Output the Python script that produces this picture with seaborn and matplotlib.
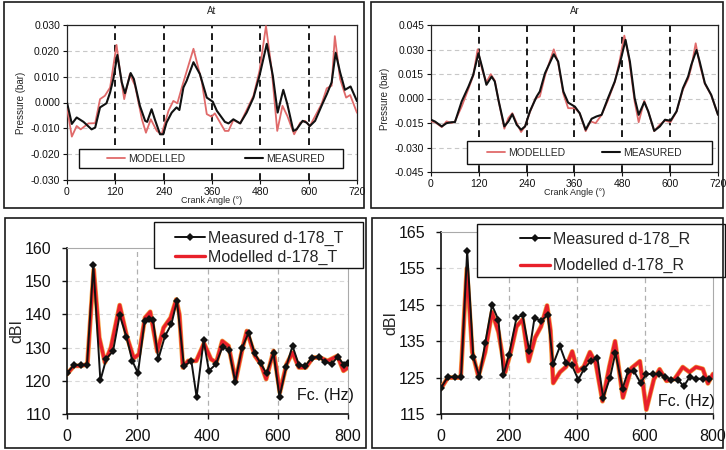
import numpy as np
import pandas as pd
import matplotlib
matplotlib.use("Agg")
import matplotlib.pyplot as plt
import matplotlib.patheffects as pe
from matplotlib.patches import Rectangle
from matplotlib.lines import Line2D
import seaborn as sns

sns.set_theme(style="white")
plt.rcParams['font.family'] = ['Liberation Sans', 'DejaVu Sans']

# ---------------- data: At (pressure, mbar) ----------------
at_meas_ang = [0, 12, 24, 41, 61, 70, 82, 98, 107, 115, 125, 136, 144, 158, 166, 181, 194, 199, 210,
               218, 231, 239, 247, 260, 272, 279, 289, 297, 314, 330, 347, 362, 372, 392, 401, 413,
               430, 446, 463, 478, 496, 511, 523, 537, 547, 562, 570, 585, 595, 603, 616, 632, 645,
               657, 667, 678, 690, 704, 720]
at_meas_val = [0.0, -8.3, -5.8, -7.5, -10.4, -9.7, -1.9, -0.3, 3.9, 9.1, 18.4, 7.8, 3.6, 11.4, 9.1,
               -1.3, -7.1, -7.5, -2.6, -6.5, -12.3, -12.3, -7.8, -3.9, -1.9, -2.9, 5.8, 8.4, 15.6,
               11.0, 1.9, 0.3, -3.2, -7.5, -8.1, -6.5, -8.1, -3.9, 1.9, 10.4, 22.7, 10.4, -3.9, 4.9,
               -0.6, -11.0, -10.4, -7.1, -7.8, -9.1, -7.1, -1.3, 3.2, 7.8, 19.2, 11.7, 4.9, 6.2, 0.5]
at_mod_ang = [0, 12, 24, 34, 53, 70, 82, 94, 107, 123, 133, 142, 156, 169, 186, 196, 208, 223, 235,
              252, 264, 274, 285, 314, 335, 347, 359, 367, 392, 401, 413, 430, 463, 478, 494, 508,
              522, 535, 547, 564, 579, 591, 603, 632, 645, 657, 665, 678, 693, 703, 720]
at_mod_val = [-2.0, -13.2, -9.1, -10.4, -8.1, -8.0, 1.3, 2.6, 5.8, 22.3, 10.4, 1.3, 11.0, 6.5, -6.5,
              -11.7, -6.5, -11.0, -12.3, -3.2, 0.6, -0.3, 5.8, 20.8, 7.8, -4.5, -5.5, -4.2, -11.0,
              -11.0, -6.8, -8.1, 2.6, 12.3, 29.6, 13.0, -11.0, -1.3, -5.2, -12.3, -7.8, -7.1, -9.1,
              -0.6, 5.5, 6.5, 25.7, 9.1, 1.9, 2.9, -4.0]

# ---------------- data: Ar (pressure, mbar) ----------------
ar_meas_ang = [0, 10, 27, 39, 52, 60, 77, 94, 106, 119, 129, 139, 152, 160, 170, 184, 194, 204, 215,
               226, 236, 248, 265, 273, 286, 308, 319, 332, 344, 361, 373, 388, 403, 415, 428, 444,
               461, 474, 488, 499, 511, 521, 535, 545, 560, 574, 587, 601, 616, 632, 645, 653, 666,
               674, 687, 703, 720]
ar_meas_val = [-13.0, -14.1, -17.1, -15.1, -14.5, -14.5, -1.8, 7.3, 14.5, 27.7, 18.5, 8.4, 13.4, 10.4,
               -1.8, -17.1, -14.1, -9.6, -16.1, -19.1, -17.1, -7.9, 1.2, 4.3, 15.5, 27.1, 22.6, 4.3,
               -2.5, -5.0, -9.0, -19.1, -12.4, -11.0, -10.0, 0.2, 10.4, 21.6, 35.9, 22.6, 0.2, -10.0,
               -2.2, -7.9, -19.8, -17.1, -13.0, -13.6, -7.9, 6.3, 13.4, 20.6, 29.7, 22.6, 9.4, 2.2,
               -10.0]
ar_mod_ang = [0, 10, 27, 39, 52, 60, 77, 94, 106, 117, 129, 139, 150, 160, 170, 184, 194, 204, 215,
              226, 236, 248, 262, 273, 286, 308, 319, 332, 344, 361, 373, 388, 400, 413, 428, 444,
              461, 474, 485, 497, 511, 521, 535, 545, 560, 574, 587, 601, 616, 632, 645, 653, 664,
              674, 687, 703, 720]
ar_mod_val = [-14.0, -14.5, -17.5, -14.0, -15.0, -14.0, -4.9, 6.0, 14.0, 30.1, 17.0, 10.0, 14.9, 11.0,
              -2.0, -18.5, -12.0, -9.0, -15.0, -20.5, -17.0, -8.5, 0.0, 1.2, 14.0, 30.1, 22.0, 3.0,
              -5.9, -6.0, -9.0, -20.0, -14.0, -15.1, -10.0, -1.0, 10.0, 24.0, 38.5, 24.0, -2.0,
              -14.5, -1.4, -8.0, -20.0, -16.0, -13.5, -14.5, -8.0, 5.5, 12.0, 19.0, 33.8, 21.0,
              9.0, 2.0, -10.0]

# ---------------- data: d-178_T (dBI) ----------------
t_meas_f = [0, 20, 39, 57, 75, 95, 112, 131, 150, 169, 186, 202, 221, 233, 245, 260, 279, 297, 313,
            333, 354, 369, 389, 404, 424, 443, 461, 479, 498, 517, 534, 551, 568, 588, 605, 624, 642,
            660, 679, 697, 717, 735, 754, 771, 789, 800]
t_meas_db = [122.3, 124.8, 124.8, 124.8, 154.8, 120.1, 126.7, 128.9, 139.8, 133.3, 126.0, 122.3,
             138.0, 138.5, 138.2, 126.6, 133.5, 137.0, 144.1, 124.4, 126.0, 115.1, 132.2, 123.0,
             125.0, 130.3, 129.3, 119.7, 129.8, 134.5, 128.3, 125.3, 122.2, 128.3, 115.1, 124.2,
             130.5, 124.8, 124.5, 127.0, 127.2, 125.6, 125.2, 127.2, 124.8, 125.3]
t_mod_f = [0, 20, 40, 58, 76, 92, 108, 125, 150, 170, 190, 205, 222, 237, 257, 275, 295, 311, 320,
           330, 345, 368, 390, 410, 425, 442, 460, 480, 500, 512, 535, 552, 567, 588, 606, 625, 642,
           660, 680, 700, 720, 742, 770, 787, 800]
t_mod_db = [122.0, 124.5, 124.5, 125.0, 153.5, 133.0, 125.5, 130.0, 142.8, 133.5, 126.8, 128.0,
            139.0, 140.8, 128.8, 136.0, 139.0, 144.5, 140.0, 124.0, 126.0, 126.0, 131.3, 126.5,
            125.5, 132.0, 130.5, 120.0, 130.0, 135.0, 127.5, 125.0, 120.5, 129.0, 116.5, 125.0,
            128.5, 124.0, 124.0, 127.0, 127.0, 126.0, 127.5, 123.0, 124.0]

# ---------------- data: d-178_R (dBI) ----------------
r_meas_f = [0, 20, 40, 59, 77, 95, 113, 130, 150, 169, 183, 200, 222, 240, 260, 275, 294, 314, 330,
            350, 368, 385, 404, 420, 441, 460, 477, 497, 513, 534, 550, 568, 587, 604, 623, 640, 660,
            677, 697, 714, 731, 750, 770, 789]
r_meas_db = [122.2, 125.2, 125.2, 125.2, 159.9, 130.6, 125.2, 134.5, 144.9, 140.8, 125.6, 131.3,
             141.4, 142.2, 132.2, 141.4, 140.6, 142.2, 128.7, 133.6, 129.0, 128.4, 124.4, 127.3,
             129.6, 130.4, 119.4, 124.9, 131.8, 122.0, 126.7, 126.7, 123.5, 126.0, 126.0, 126.0,
             125.3, 124.4, 124.4, 122.6, 125.1, 124.7, 124.7, 124.7]
r_mod_f = [0, 20, 40, 58, 76, 92, 110, 130, 150, 169, 189, 205, 222, 240, 258, 277, 294, 312, 322,
           330, 350, 368, 386, 402, 420, 438, 455, 475, 495, 512, 535, 560, 585, 604, 626, 643, 663,
           687, 711, 731, 750, 770, 785, 800]
r_mod_db = [122.0, 125.0, 125.0, 125.0, 155.0, 132.0, 125.3, 132.0, 143.0, 137.5, 126.5, 132.0,
            139.0, 141.0, 129.5, 136.0, 139.0, 144.8, 138.0, 123.5, 126.5, 128.0, 132.2, 126.7,
            128.0, 132.0, 129.0, 118.5, 128.0, 135.0, 119.5, 127.6, 129.5, 116.2, 124.5, 127.3,
            124.1, 124.6, 127.9, 126.5, 127.9, 127.4, 123.4, 126.0]

top_xticks = [0, 120, 240, 360, 480, 600, 720]
at_yticks = [-0.030, -0.020, -0.010, 0.000, 0.010, 0.020, 0.030]
at_ylabels = ["-0.030", "-0.020", "-0.010", "0.000", "0.010", "0.020", "0.030"]
ar_yticks = [-0.045, -0.030, -0.015, 0.000, 0.015, 0.030, 0.045]
ar_ylabels = ["-0.045", "-0.030", "-0.015", "0.000", "0.015", "0.030", "0.045"]
bot_xticks = [0, 200, 400, 600, 800]
t_yticks = [110, 120, 130, 140, 150, 160]
r_yticks = [115, 125, 135, 145, 155, 165]

W, H = 726, 450
fig = plt.figure(figsize=(7.26, 4.5), dpi=100)
fig.patch.set_facecolor('white')


def fx(x):
    return x / W


def fy(y):
    return 1 - y / H


def ax_px(x0, y0, x1, y1):
    return fig.add_axes([fx(x0), fy(y1), (x1 - x0) / W, (y1 - y0) / H])


def frame_px(x0, y0, x1, y1, lw=1.2):
    fig.patches.append(Rectangle((fx(x0), fy(y1)), (x1 - x0) / W, (y1 - y0) / H,
                                 transform=fig.transFigure, fill=False,
                                 edgecolor='#1a1a1a', lw=lw, zorder=0))


def legend_box(ax, x0, y0, x1, y1):
    ax.add_patch(Rectangle((fx(x0), fy(y1)), (x1 - x0) / W, (y1 - y0) / H,
                           transform=fig.transFigure, facecolor='white',
                           edgecolor='#111111', lw=1.0, zorder=6, clip_on=False))


RED_TOP = '#e06a6a'
RED_BOT = '#e8202a'


def top_panel(ax, mang, mval, dang, dval, yt, ylabs, title, leg):
    df_meas = pd.DataFrame({'angle': mang, 'p': np.array(mval) / 1000.0})
    df_mod = pd.DataFrame({'angle': dang, 'p': np.array(dval) / 1000.0})
    ax.set_facecolor('white')
    for y in yt[1:-1]:
        ax.axhline(y, color='#c8c8c8', lw=0.8, ls=(0, (4, 3)), zorder=0)
    for x in top_xticks[1:-1]:
        ax.axvline(x, color='#1a1a1a', lw=1.4, ls=(0, (3.5, 2.5)), zorder=1)
    sns.lineplot(data=df_mod, x='angle', y='p', ax=ax, color=RED_TOP, lw=1.3,
                 estimator=None, sort=False, zorder=3)
    sns.lineplot(data=df_meas, x='angle', y='p', ax=ax, color='#111111', lw=1.5,
                 estimator=None, sort=False, zorder=4)
    ax.set_xlim(0, 720)
    ax.set_ylim(yt[0], yt[-1])
    ax.set_xticks(top_xticks)
    ax.set_xticklabels([str(v) for v in top_xticks], fontsize=7.5)
    ax.set_yticks(yt)
    ax.set_yticklabels(ylabs, fontsize=7.5)
    ax.tick_params(axis='both', which='both', length=3, width=0.8, direction='out',
                   pad=2, colors='#111111', left=True, bottom=True)
    ax.set_xlabel('Crank Angle (°)', fontsize=6.5, labelpad=-1)
    ax.set_ylabel('Pressure (bar)', fontsize=7, labelpad=3)
    ax.set_title(title, fontsize=7, pad=8)
    for s in ax.spines.values():
        s.set_color('#222222')
        s.set_linewidth(0.9)
        s.set_visible(True)
    (bx0, by0, bx1, by1), (hx, hy), colsp = leg
    legend_box(ax, bx0, by0, bx1, by1)
    handles = [Line2D([], [], color=RED_TOP, lw=1.3), Line2D([], [], color='#111111', lw=1.5)]
    lg = ax.legend(handles, ['MODELLED', 'MEASURED'], ncol=2, loc='center left',
                   bbox_to_anchor=(fx(hx), fy(hy)), bbox_transform=fig.transFigure,
                   fontsize=7.5, frameon=False, handlelength=1.7, borderaxespad=0,
                   borderpad=0, handletextpad=0.3, columnspacing=colsp)
    lg.set_zorder(7)


def bottom_panel(ax, mf, mdb, df_, ddb, yt, name, leg, fc_pos):
    df_meas = pd.DataFrame({'f': mf, 'db': mdb})
    df_mod = pd.DataFrame({'f': df_, 'db': ddb})
    ax.set_facecolor('white')
    for y in yt[1:-1]:
        ax.axhline(y, color='#d8d8d8', lw=0.8, ls=(0, (4, 3)), zorder=0)
    for x in bot_xticks[1:-1]:
        ax.axvline(x, color='#b0b0b0', lw=0.9, ls=(0, (4, 3)), zorder=0)
    sns.lineplot(data=df_mod, x='f', y='db', ax=ax, color=RED_BOT, lw=2.4,
                 estimator=None, sort=False, zorder=3,
                 path_effects=[pe.Stroke(linewidth=3.4, foreground='#f2a040'), pe.Normal()])
    sns.lineplot(data=df_meas, x='f', y='db', ax=ax, color='#111111', lw=1.4,
                 marker='D', markersize=4.5, markeredgewidth=0, estimator=None, sort=False,
                 zorder=4)
    ax.set_xlim(0, 800)
    ax.set_ylim(yt[0], yt[-1])
    ax.set_xticks(bot_xticks)
    ax.set_xticklabels([str(v) for v in bot_xticks], fontsize=11.5)
    ax.set_yticks(yt)
    ax.set_yticklabels([str(v) for v in yt], fontsize=11.5)
    ax.tick_params(axis='both', which='both', length=3.6, width=1.0, direction='out',
                   pad=7.5, colors='#111111', left=True, bottom=True)
    ax.set_xlabel('')
    ax.set_ylabel('dBI', fontsize=11.5, labelpad=0)
    for k, s in ax.spines.items():
        s.set_visible(True)
        if k in ('left', 'bottom'):
            s.set_color('#111111')
            s.set_linewidth(1.2)
        else:
            s.set_color('#aaaaaa')
            s.set_linewidth(0.8)
    ax.text(fc_pos[0], fc_pos[1], 'Fc. (Hz)', fontsize=11.5, ha='left', va='center',
            color='#111111', zorder=5)
    (bx0, by0, bx1, by1), (hx, hy), lsp = leg
    legend_box(ax, bx0, by0, bx1, by1)
    handles = [Line2D([], [], color='#111111', lw=1.4, marker='D', markersize=4.5,
                      markeredgewidth=0),
               Line2D([], [], color=RED_BOT, lw=2.4)]
    lg = ax.legend(handles, ['Measured ' + name, 'Modelled ' + name], loc='center left',
                   bbox_to_anchor=(fx(hx), fy(hy)), bbox_transform=fig.transFigure,
                   fontsize=11.5, frameon=False, handlelength=1.9, borderaxespad=0,
                   borderpad=0, handletextpad=0.15, labelspacing=lsp, numpoints=1)
    lg.set_zorder(7)


# panel frames
frame_px(4, 2, 364, 208)
frame_px(371, 2, 723, 208)
frame_px(5, 218, 366, 448)
frame_px(372, 218, 723, 448)

ax1 = ax_px(67, 25, 357, 180)
top_panel(ax1, at_meas_ang, at_meas_val, at_mod_ang, at_mod_val, at_yticks, at_ylabels, 'At',
          ((79, 149, 343, 168), (107, 158.5), 5.8))

ax2 = ax_px(431, 25, 718, 172)
top_panel(ax2, ar_meas_ang, ar_meas_val, ar_mod_ang, ar_mod_val, ar_yticks, ar_ylabels, 'Ar',
          ((467, 141, 712, 164), (487, 152.7), 3.6))

ax3 = ax_px(67, 248, 348, 414)
bottom_panel(ax3, t_meas_f, t_meas_db, t_mod_f, t_mod_db, t_yticks, 'd-178_T',
             ((154, 222, 363, 268), (175, 247.5), 0.25), (655, 115.5))

ax4 = ax_px(441, 232, 713, 414)
bottom_panel(ax4, r_meas_f, r_meas_db, r_mod_f, r_mod_db, r_yticks, 'd-178_R',
             ((477, 224, 725, 277), (520, 252.5), 0.7), (637, 118.5))

fig.savefig('out.png', dpi=100, facecolor='white')
